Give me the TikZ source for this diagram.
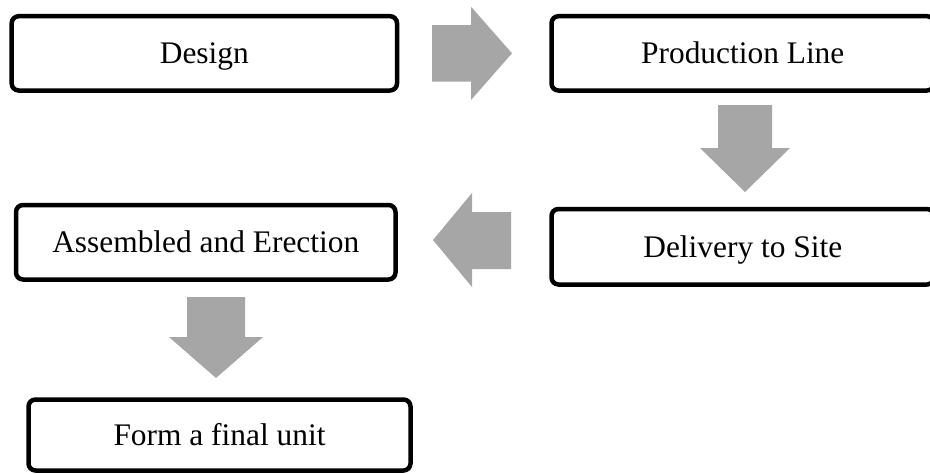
\documentclass[tikz,border=0pt]{standalone}
\usepackage{fontspec}
\setmainfont{Liberation Serif}
\definecolor{arrowgray}{RGB}{166,166,166}
\tikzset{
  stagebox/.style={draw=black, line width=4.5pt, rounded corners=7pt, fill=white,
    inner sep=0pt, text height=21pt, text depth=0pt,
    font=\fontsize{31.4}{37}\selectfont},
  blockarrow/.style={fill=arrowgray, draw=none}
}
\begin{document}
\begin{tikzpicture}[x=1pt, y=-1pt]
  \useasboundingbox (0,0) rectangle (930,474);
  \clip (0,0) rectangle (930,474);

  % process stages
  \node[stagebox, minimum width=385.3pt, minimum height=74.3pt] (design) at (204.35,53.35) {Design};
  \node[stagebox, minimum width=382.5pt, minimum height=74.3pt] (prod) at (742.75,53.35) {Production Line};
  \node[stagebox, minimum width=382.5pt, minimum height=75.5pt] (deliv) at (742.75,246.75) {Delivery to Site};
  \node[stagebox, minimum width=379.5pt, minimum height=74.5pt] (assem) at (205.75,242.25) {Assembled and Erection};
  \node[stagebox, minimum width=382pt, minimum height=71pt] (final) at (219.5,435) {Form a final unit};

  % block arrows between stages
  % Design -> Production Line
  \fill[blockarrow] (432,25) -- (471,25) -- (471,6.7) -- (512,53.3) -- (471,100)
    -- (471,81.7) -- (432,81.7) -- cycle;
  % Production Line -> Delivery to Site
  \fill[blockarrow] (718,105) -- (772,105) -- (772,148) -- (790,148) -- (745,192)
    -- (700,148) -- (718,148) -- cycle;
  % Delivery to Site -> Assembled and Erection
  \fill[blockarrow] (511,212) -- (472,212) -- (472,193) -- (433,240) -- (472,287)
    -- (472,269) -- (511,269) -- cycle;
  % Assembled and Erection -> Form a final unit
  \fill[blockarrow] (187,297) -- (245,297) -- (245,337) -- (263,337) -- (216,378)
    -- (169,337) -- (187,337) -- cycle;
\end{tikzpicture}
\end{document}
